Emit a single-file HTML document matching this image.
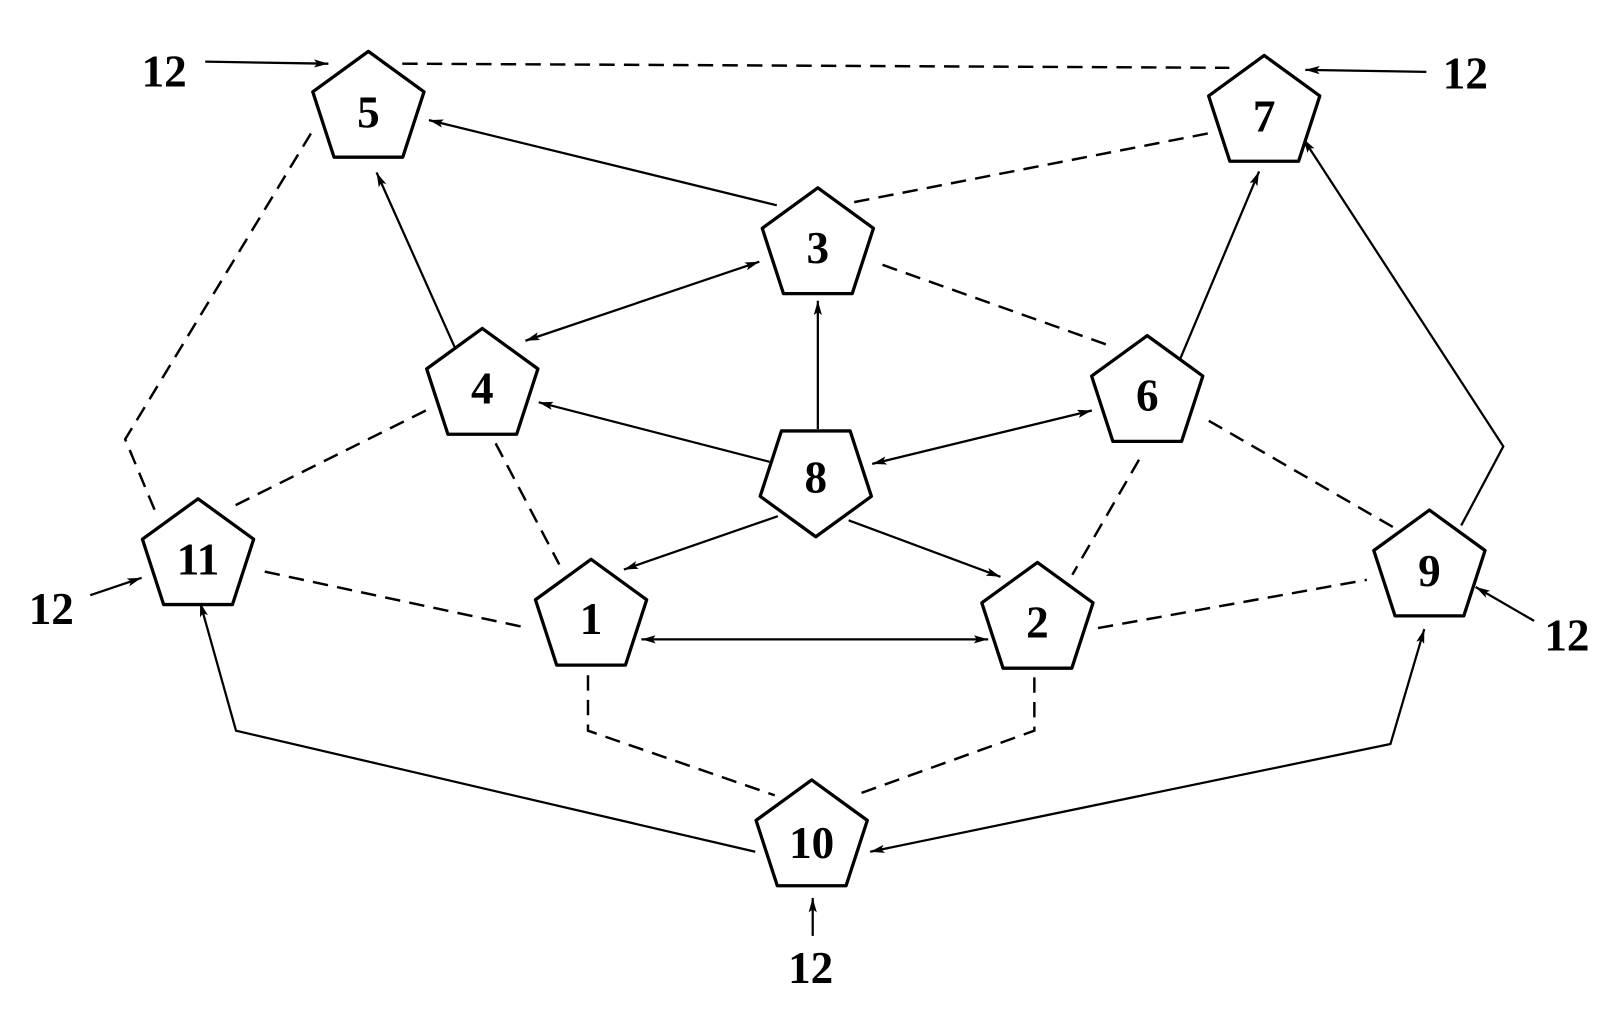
<!DOCTYPE html>
<html><head><meta charset="utf-8"><style>
html,body{margin:0;padding:0;background:#fff;}
svg{display:block;}
text{font-family:"Liberation Serif",serif;font-weight:bold;font-size:44px;text-anchor:middle;fill:#000;}
</style></head><body>
<svg width="1609" height="1015" viewBox="0 0 1568 989" xmlns="http://www.w3.org/2000/svg">
<defs>
<marker id="a" viewBox="0 0 14 8" refX="14" refY="4" markerWidth="14" markerHeight="8" markerUnits="userSpaceOnUse" orient="auto-start-reverse">
<path d="M0,0 L14,4 L0,8 L3,4 Z" fill="#000"/></marker>
</defs>
<g fill="none" stroke="#000" stroke-width="2.4" stroke-dasharray="15,9">
<line x1="392" y1="62" x2="1198" y2="66"/>
<polyline points="303,130 122,428 152,500"/>
<line x1="1177" y1="130" x2="832" y2="197"/>
<line x1="860" y1="258" x2="1082" y2="337"/>
<line x1="415" y1="400" x2="228" y2="493"/>
<line x1="483" y1="432" x2="545" y2="550"/>
<line x1="1110" y1="448" x2="1045" y2="560"/>
<line x1="1178" y1="410" x2="1360" y2="515"/>
<line x1="258" y1="557" x2="515" y2="612"/>
<line x1="1070" y1="612" x2="1332" y2="565"/>
<polyline points="573,658 573,712 755,775"/>
<polyline points="1008,660 1008,712 833,775"/>
</g>
<g fill="none" stroke="#000" stroke-width="2.2">
<line x1="757" y1="200" x2="418" y2="117" marker-end="url(#a)"/>
<line x1="443" y1="338" x2="367" y2="168" marker-end="url(#a)"/>
<line x1="512" y1="332" x2="740" y2="255" marker-start="url(#a)" marker-end="url(#a)"/>
<line x1="797" y1="418" x2="797" y2="293" marker-end="url(#a)"/>
<line x1="750" y1="450" x2="525" y2="392" marker-end="url(#a)"/>
<line x1="850" y1="452" x2="1064" y2="400" marker-start="url(#a)" marker-end="url(#a)"/>
<line x1="1150" y1="350" x2="1227" y2="167" marker-end="url(#a)"/>
<line x1="758" y1="503" x2="608" y2="555" marker-end="url(#a)"/>
<line x1="827" y1="507" x2="975" y2="562" marker-end="url(#a)"/>
<line x1="625" y1="623" x2="963" y2="623" marker-start="url(#a)" marker-end="url(#a)"/>
<polyline points="1424,512 1465,435 1270,135" marker-end="url(#a)"/>
<polyline points="736,830 230,712 195,587" marker-end="url(#a)"/>
<polyline points="848,830 1355,725 1388,613" marker-start="url(#a)" marker-end="url(#a)"/>
<line x1="200" y1="60" x2="320" y2="62" marker-end="url(#a)"/>
<line x1="1390" y1="70" x2="1272" y2="68" marker-end="url(#a)"/>
<line x1="88" y1="580" x2="138" y2="563" marker-end="url(#a)"/>
<line x1="1495" y1="605" x2="1438" y2="572" marker-end="url(#a)"/>
<line x1="792" y1="912" x2="792" y2="875" marker-end="url(#a)"/>
</g>
<g fill="#fff" stroke="#000" stroke-width="3.2" stroke-linejoin="round">
<polygon transform="translate(359,107)" points="0,-57 54.2,-17.6 33.5,46.1 -33.5,46.1 -54.2,-17.6"/>
<polygon transform="translate(1232,111)" points="0,-57 54.2,-17.6 33.5,46.1 -33.5,46.1 -54.2,-17.6"/>
<polygon transform="translate(797,240)" points="0,-57 54.2,-17.6 33.5,46.1 -33.5,46.1 -54.2,-17.6"/>
<polygon transform="translate(470,377)" points="0,-57 54.2,-17.6 33.5,46.1 -33.5,46.1 -54.2,-17.6"/>
<polygon transform="translate(1118,384)" points="0,-57 54.2,-17.6 33.5,46.1 -33.5,46.1 -54.2,-17.6"/>
<polygon transform="translate(795,466)" points="0,57 54.2,17.6 33.5,-46.1 -33.5,-46.1 -54.2,17.6"/>
<polygon transform="translate(193,543)" points="0,-57 54.2,-17.6 33.5,46.1 -33.5,46.1 -54.2,-17.6"/>
<polygon transform="translate(576,602)" points="0,-57 54.2,-17.6 33.5,46.1 -33.5,46.1 -54.2,-17.6"/>
<polygon transform="translate(1011,605)" points="0,-57 54.2,-17.6 33.5,46.1 -33.5,46.1 -54.2,-17.6"/>
<polygon transform="translate(1393,554)" points="0,-57 54.2,-17.6 33.5,46.1 -33.5,46.1 -54.2,-17.6"/>
<polygon transform="translate(791,817)" points="0,-57 54.2,-17.6 33.5,46.1 -33.5,46.1 -54.2,-17.6"/>
</g>
<text x="359" y="124">5</text>
<text x="1232" y="128">7</text>
<text x="797" y="256">3</text>
<text x="470" y="393">4</text>
<text x="1118" y="400">6</text>
<text x="795" y="480">8</text>
<text x="193" y="560">11</text>
<text x="576" y="618">1</text>
<text x="1011" y="621">2</text>
<text x="1393" y="571">9</text>
<text x="791" y="836">10</text>
<text x="160" y="84">12</text>
<text x="1428" y="86">12</text>
<text x="50" y="608">12</text>
<text x="1527" y="634">12</text>
<text x="790" y="958">12</text>
</svg>
</body></html>
